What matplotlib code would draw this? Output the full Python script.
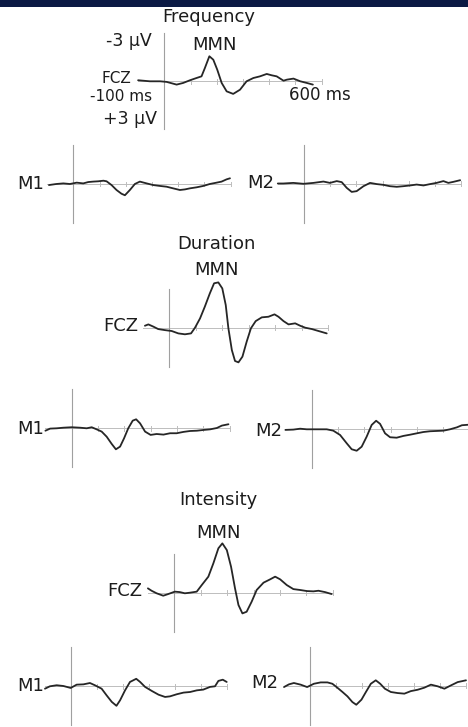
import matplotlib
matplotlib.use("Agg")
import matplotlib.pyplot as plt
from matplotlib.patches import Rectangle

W, H = 468, 727
plt.rcParams['font.family'] = ['DejaVu Sans']

# ---------------- data (time in ms, amplitude in microvolts; negative = up) -------------
freq_fcz_t = [-100, -55, -16, 9, 47, 72, 98, 123, 142, 155, 172, 187, 202, 219, 238, 263,
              289, 314, 340, 365, 391, 410, 429, 455, 468, 493, 519, 544, 567]
freq_fcz_uv = [-0.07, 0, 0, 0.04, 0.22, 0.11, -0.07, -0.22, -0.33, -0.89, -1.67, -1.44, -0.78,
               0.11, 0.67, 0.84, 0.56, 0, -0.22, -0.33, -0.49, -0.4, -0.33, -0.04, -0.11,
               -0.18, 0, 0.11, 0.22]

freq_m1_t = [-93, -65, -38, -13, 13, 38, 57, 76, 95, 115, 127, 146, 165, 184, 197, 216, 235,
             254, 280, 305, 331, 356, 381, 407, 426, 445, 471, 496, 521, 547, 566, 585, 598]
freq_m1_uv = [0.07, 0, -0.04, 0, -0.09, -0.04, -0.13, -0.16, -0.18, -0.22, -0.18, 0.07, 0.4,
              0.65, 0.75, 0.4, 0, -0.16, -0.04, 0.07, 0.13, 0.18, 0.29, 0.4, 0.36, 0.29, 0.22,
              0.13, 0, -0.09, -0.16, -0.31, -0.38]

freq_m2_t = [-100, -79, -41, -2, 36, 74, 99, 125, 144, 163, 182, 201, 227, 252, 278, 303, 328,
             354, 379, 405, 430, 456, 481, 506, 532, 551, 570, 596]
freq_m2_uv = [0, 0, -0.04, 0.02, -0.04, -0.13, -0.04, -0.16, -0.09, 0.29, 0.56, 0.51, 0.18,
              -0.04, 0.04, 0.09, 0.18, 0.22, 0.18, 0.13, 0.07, 0.13, 0.04, -0.04, -0.16, -0.04,
              -0.11, -0.22]

dur_fcz_t = [-92, -79, -60, -42, -17, 9, 34, 59, 82, 97, 116, 134, 153, 169, 185, 200, 213,
             223, 236, 248, 261, 276, 292, 308, 326, 349, 374, 397, 412, 431, 450, 475, 494,
             513, 538, 563, 594]
dur_fcz_uv = [-0.13, -0.22, -0.07, 0.09, 0.16, 0.22, 0.38, 0.44, 0.38, 0, -0.62, -1.4, -2.29,
              -2.96, -3.02, -2.62, -1.51, 0.04, 1.49, 2.22, 2.31, 1.93, 0.93, 0.04, -0.44,
              -0.69, -0.73, -0.89, -0.73, -0.44, -0.22, -0.29, -0.13, 0, 0.09, 0.22, 0.38]

dur_m1_t = [-100, -82, -57, -32, 0, 32, 57, 76, 95, 114, 133, 152, 168, 184, 199, 215, 232,
            245, 260, 279, 300, 323, 349, 374, 399, 425, 450, 476, 501, 526, 552, 571, 596]
dur_m1_uv = [0.16, 0.02, 0, -0.04, -0.07, -0.04, 0, -0.07, 0.07, 0.22, 0.56, 1.04, 1.4, 1.22,
             0.67, 0, -0.51, -0.6, -0.33, 0.22, 0.44, 0.38, 0.42, 0.33, 0.33, 0.24, 0.18,
             0.16, 0.11, 0.07, -0.02, -0.18, -0.27]

dur_m2_t = [-100, -70, -44, -19, 19, 57, 82, 108, 133, 152, 171, 190, 209, 228, 245, 260, 279,
            298, 323, 349, 374, 399, 425, 450, 476, 501, 526, 552, 571, 600]
dur_m2_uv = [0.04, 0.02, -0.04, 0, 0, 0, 0.09, 0.38, 0.93, 1.33, 1.43, 1.16, 0.49, -0.29,
             -0.57, -0.36, 0.27, 0.53, 0.56, 0.44, 0.36, 0.27, 0.18, 0.13, 0.11, 0.09, 0,
             -0.13, -0.27, -0.31]

int_fcz_t = [-100, -86, -67, -42, -23, 2, 21, 40, 59, 85, 104, 129, 148, 167, 182, 199, 215,
             230, 243, 258, 274, 293, 312, 338, 363, 382, 401, 426, 451, 477, 502, 527, 546,
             571, 596]
int_fcz_uv = [-0.29, -0.13, 0.04, 0.2, 0.09, -0.07, -0.04, 0.04, 0, -0.07, -0.51, -1.07,
              -1.96, -2.96, -3.29, -2.84, -1.73, -0.29, 0.82, 1.38, 1.27, 0.6, -0.18, -0.67,
              -0.89, -1.07, -0.89, -0.51, -0.24, -0.18, -0.11, -0.09, -0.13, -0.04, 0.09]

int_m1_t = [-99, -80, -54, -28, 0, 23, 49, 74, 93, 119, 138, 158, 176, 190, 209, 228, 252,
            267, 286, 312, 338, 363, 382, 408, 434, 459, 485, 510, 536, 555, 568, 585, 600]
int_m1_uv = [0.16, 0, -0.07, -0.02, 0.11, -0.11, -0.13, -0.22, -0.07, 0.16, 0.6, 1.04, 1.3,
             0.93, 0.27, -0.29, -0.5, -0.29, 0.04, 0.31, 0.56, 0.71, 0.67, 0.53, 0.42, 0.38,
             0.27, 0.22, 0.04, 0, -0.36, -0.44, -0.29]

int_m2_t = [-100, -81, -62, -36, -11, 15, 41, 67, 86, 105, 125, 144, 163, 178, 198, 215, 234,
            253, 270, 288, 311, 337, 363, 388, 414, 440, 465, 491, 517, 542, 568, 600]
int_m2_uv = [0.09, -0.09, -0.18, -0.07, 0.09, -0.13, -0.22, -0.22, -0.13, 0.13, 0.42, 0.71,
             1.09, 1.27, 0.93, 0.42, -0.13, -0.36, -0.13, 0.2, 0.42, 0.49, 0.53, 0.36, 0.27,
             0.13, -0.07, 0.04, 0.2, -0.02, -0.24, -0.36]

tick_ms = [0, 100, 200, 300, 400, 500, 600]

# ---------------- layout ----------------
PX_PER_UV = 15.0
Y_HALF = 3.5

fig = plt.figure(figsize=(W / 100, H / 100), dpi=100)
fig.patch.set_facecolor('white')
fig.patches.append(Rectangle((0, 1 - 7 / H), 1, 7 / H, transform=fig.transFigure,
                             facecolor='#0b1a44', edgecolor='none', zorder=0))


def panel(x0, y0, s, t, uv, vext=2.6, lw=1.3):
    left = x0 - s
    width = 7 * s
    top = y0 - Y_HALF * PX_PER_UV
    height = 2 * Y_HALF * PX_PER_UV
    ax = fig.add_axes([left / W, 1 - (top + height) / H, width / W, height / H])
    ax.set_xlim(-100, 600)
    ax.set_ylim(Y_HALF, -Y_HALF)
    ax.axis('off')
    ax.patch.set_alpha(0)
    ax.plot([-100, 600], [0, 0], color='#bdbdbd', lw=0.7, clip_on=False, zorder=1)
    for tm in tick_ms:
        ax.plot([tm, tm], [-0.15, 0.15], color='#bdbdbd', lw=0.7, clip_on=False, zorder=1)
    ax.plot([0, 0], [-vext, vext], color='#a0a0a0', lw=0.8, clip_on=False, zorder=1)
    ax.plot(t, uv, color='#262626', lw=lw, clip_on=False, zorder=3,
            solid_joinstyle='round', solid_capstyle='round')
    return ax


panel(164.3, 81.3, 26.2, freq_fcz_t, freq_fcz_uv, vext=3.2)
panel(73.3, 184.0, 26.2, freq_m1_t, freq_m1_uv)
panel(304.0, 183.5, 26.2, freq_m2_t, freq_m2_uv)
panel(169.3, 327.7, 26.5, dur_fcz_t, dur_fcz_uv)
panel(71.7, 428.3, 26.3, dur_m1_t, dur_m1_uv)
panel(311.7, 429.3, 26.3, dur_m2_t, dur_m2_uv)
panel(174.3, 592.7, 26.4, int_fcz_t, int_fcz_uv)
panel(70.7, 686.3, 26.0, int_m1_t, int_m1_uv)
panel(310.0, 685.7, 26.0, int_m2_t, int_m2_uv)

FS = 12.5


def txt(x, y, s, ha='center', size=FS):
    fig.text(x / W, 1 - y / H, s, ha=ha, va='center', fontsize=size, color='#1c1c1c')


txt(209, 17, 'Frequency', size=13)
txt(152, 41, '-3 μV', ha='right')
txt(215, 45, 'MMN', size=13)
txt(131, 78.5, 'FCZ', ha='right', size=11)
txt(152, 96.5, '-100 ms', ha='right', size=11)
txt(289, 95, '600 ms', ha='left', size=12)
txt(157, 119, '+3 μV', ha='right')
txt(44, 184, 'M1', ha='right', size=13)
txt(274, 183, 'M2', ha='right', size=13)

txt(216, 244, 'Duration', size=13)
txt(216, 270, 'MMN', size=13)
txt(138, 326, 'FCZ', ha='right', size=13)
txt(44, 429, 'M1', ha='right', size=13)
txt(282, 431, 'M2', ha='right', size=13)

txt(218, 500, 'Intensity', size=13)
txt(219, 533, 'MMN', size=13)
txt(142, 591, 'FCZ', ha='right', size=13)
txt(44, 686, 'M1', ha='right', size=13)
txt(278, 683, 'M2', ha='right', size=13)

fig.savefig('out.png', dpi=100, facecolor='white')
